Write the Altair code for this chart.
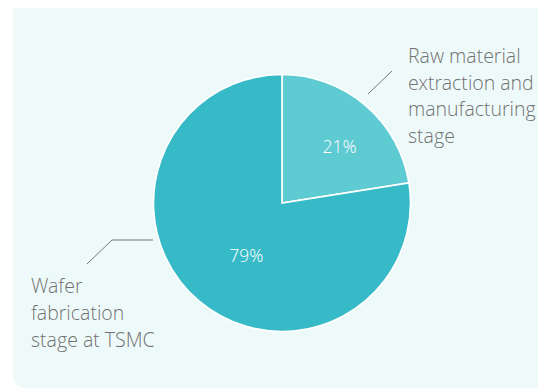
import altair as alt
import pandas as pd

stages = ["Raw material extraction and manufacturing stage", "Wafer fabrication stage at TSMC"]
shares = [22.5, 77.5]
pct_labels = ["21%", "79%"]
colors = ["#5ecad2", "#36bac7"]

upper_label = ["Raw material", "extraction and", "manufacturing", "stage"]
lower_label = ["Wafer", "fabrication", "stage at TSMC"]

df = pd.DataFrame({"stage": stages, "share": shares, "pct": pct_labels, "order": [0, 1]})

CX, CY, R = 274, 195, 128.5
FONT = "Open Sans Light, Open Sans"
GRAY = "#717171"

base = alt.Chart(df)

panel = alt.Chart(alt.Data(values=[{"a": 1}])).mark_rect(
    color="#eefafa", cornerRadius=12
).encode(x=alt.value(5), x2=alt.value(600), y=alt.value(-20), y2=alt.value(380))

pie = base.mark_arc(outerRadius=R, stroke="white", strokeWidth=1.6).encode(
    theta=alt.Theta("share:Q", stack=True),
    order=alt.Order("order:Q"),
    color=alt.Color("stage:N", scale=alt.Scale(domain=stages, range=colors), legend=None),
    x=alt.value(CX),
    y=alt.value(CY),
)

def pct_layer(stage, dx, dy):
    return base.mark_text(
        radius=78, font=FONT, fontSize=17.5, fontWeight=300, color="white",
        align="center", baseline="middle", dx=dx, dy=dy,
    ).encode(
        theta=alt.Theta("share:Q", stack=True),
        order=alt.Order("order:Q"),
        text=alt.condition(alt.datum.stage == stage, alt.Text("pct:N"), alt.value("")),
        x=alt.value(CX),
        y=alt.value(CY),
    )

pct1 = pct_layer(stages[0], 7, 4)
pct2 = pct_layer(stages[1], 15, -5)

one = alt.Data(values=[{"a": 1}])
upper_text = alt.Chart(one).mark_text(
    text=upper_label, font=FONT, fontSize=19.5, fontWeight=300, color=GRAY, align="left",
    baseline="alphabetic", lineHeight=26.7,
).encode(x=alt.value(400), y=alt.value(55))

lower_text = alt.Chart(one).mark_text(
    text=lower_label, font=FONT, fontSize=19.5, fontWeight=300, color=GRAY, align="left",
    baseline="alphabetic", lineHeight=27,
).encode(x=alt.value(23), y=alt.value(285))

rule_style = dict(color="#777777", strokeWidth=1)
lead1 = alt.Chart(one).mark_rule(**rule_style).encode(
    x=alt.value(360), y=alt.value(86), x2=alt.value(384), y2=alt.value(63))
lead2a = alt.Chart(one).mark_rule(**rule_style).encode(
    x=alt.value(145), y=alt.value(232), x2=alt.value(104), y2=alt.value(232))
lead2b = alt.Chart(one).mark_rule(**rule_style).encode(
    x=alt.value(104), y=alt.value(232), x2=alt.value(79), y2=alt.value(256))

chart = alt.layer(panel, pie, pct1, pct2, lead1, lead2a, lead2b, upper_text, lower_text).properties(
    width=530, height=380,
    autosize=alt.AutoSizeParams(type="none"),
    padding=0,
    background="white",
).configure_view(stroke=None)

chart.save("out.html", embed_options={"renderer": "svg", "actions": False})
